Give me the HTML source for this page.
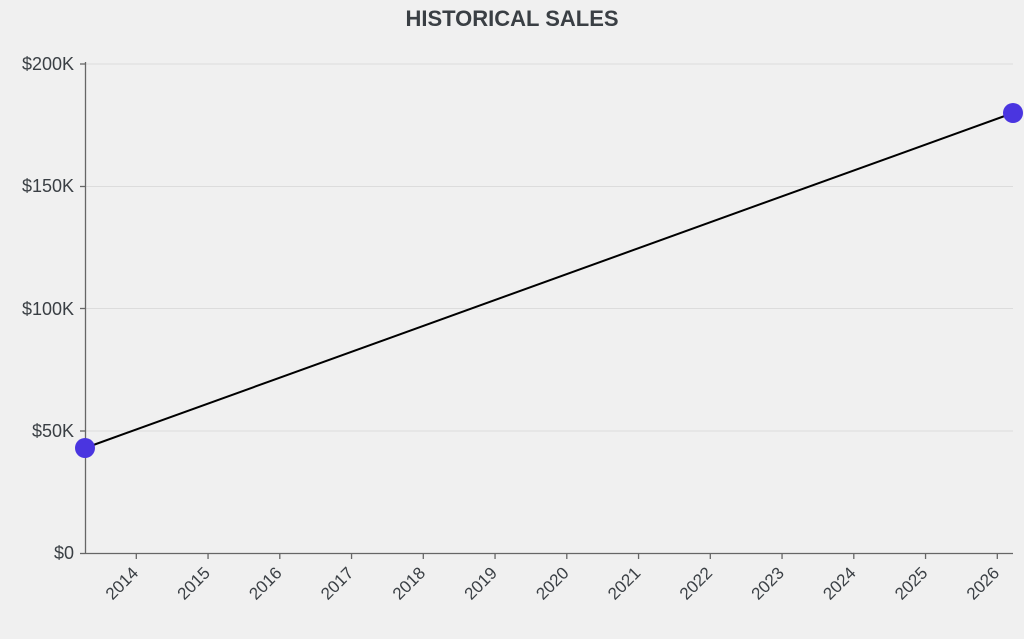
<!DOCTYPE html>
<html><head><style>html,body{margin:0;padding:0;background:#f0f0f0;}</style></head>
<body>
<svg width="1024" height="634" xmlns="http://www.w3.org/2000/svg" font-family="Liberation Sans, sans-serif">
<rect width="1024" height="634" fill="#f0f0f0"/>
<text x="512" y="26" text-anchor="middle" font-size="22" font-weight="bold" fill="#3a3f44">HISTORICAL SALES</text>
<g stroke="#dcdcdc" stroke-width="1">
<line x1="85" y1="64" x2="1013" y2="64"/>
<line x1="85" y1="186.5" x2="1013" y2="186.5"/>
<line x1="85" y1="308.5" x2="1013" y2="308.5"/>
<line x1="85" y1="431" x2="1013" y2="431"/>
</g>
<g stroke="#666" stroke-width="1.3">
<line x1="85.5" y1="62" x2="85.5" y2="553"/>
<line x1="85" y1="553.5" x2="1013" y2="553.5"/>
<line x1="80" y1="64" x2="85" y2="64"/>
<line x1="80" y1="186.5" x2="85" y2="186.5"/>
<line x1="80" y1="308.5" x2="85" y2="308.5"/>
<line x1="80" y1="431" x2="85" y2="431"/>
<line x1="80" y1="553.5" x2="85" y2="553.5"/>
</g>
<g font-size="18" fill="#3a3f44" text-anchor="end">
<text x="74" y="70">$200K</text>
<text x="74" y="192">$150K</text>
<text x="74" y="315">$100K</text>
<text x="74" y="437">$50K</text>
<text x="74" y="559">$0</text>
</g>
<g stroke="#666" stroke-width="1.3" id="ticks"></g>
<g font-size="17" fill="#3a3f44" text-anchor="end" id="xl"></g>
<line x1="85" y1="448" x2="1013" y2="113" stroke="#000" stroke-width="2"/>
<circle cx="85" cy="448" r="10" fill="#4a35e0"/>
<circle cx="1013" cy="113" r="10" fill="#4a35e0"/>
<script>
var t=document.getElementById('ticks'),l=document.getElementById('xl'),ns='http://www.w3.org/2000/svg';
for(var i=0;i<13;i++){var x=136.3+i*71.75;
var ln=document.createElementNS(ns,'line');ln.setAttribute('x1',x);ln.setAttribute('x2',x);ln.setAttribute('y1',553);ln.setAttribute('y2',559);t.appendChild(ln);
var tx=document.createElementNS(ns,'text');tx.setAttribute('transform','translate('+(x+3)+',574) rotate(-45)');tx.textContent=2014+i;l.appendChild(tx);}
</script>
</svg>
</body></html>
